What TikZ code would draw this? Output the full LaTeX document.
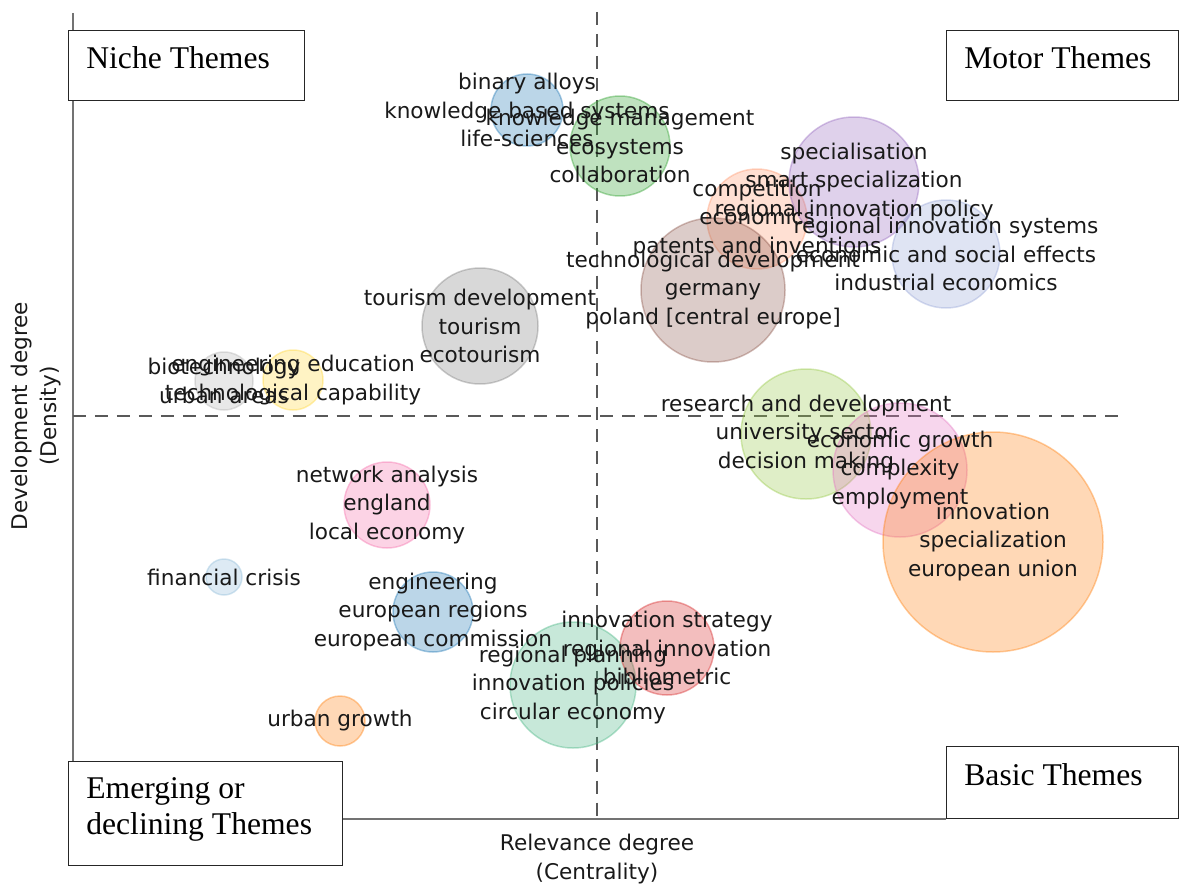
\documentclass[tikz,border=0pt]{standalone}
\usepackage{fontspec}
\setmainfont{Liberation Serif}
\newfontfamily\dejavu{DejaVu Sans}
\usepackage{tikz}
\usetikzlibrary{positioning}
\usepackage{xcolor}
\definecolor{tabblue}{RGB}{31,119,180}
\definecolor{tabgreen}{RGB}{44,160,44}
\definecolor{taborange}{RGB}{255,127,14}
\definecolor{tabred}{RGB}{214,39,40}
\definecolor{tabpurple}{RGB}{148,103,189}
\definecolor{tabbrown}{RGB}{140,86,75}
\definecolor{tabpink}{RGB}{227,119,194}
\definecolor{tabgray}{RGB}{127,127,127}
\definecolor{lightsalmon}{RGB}{255,152,110}
\definecolor{periwinkle}{RGB}{150,165,215}
\definecolor{paleyellow}{RGB}{255,215,60}
\definecolor{yellowgreen}{RGB}{150,200,70}
\definecolor{rosepink}{RGB}{245,110,170}
\definecolor{mint}{RGB}{70,180,130}

\tikzset{
    bubble/.style={circle, inner sep=0pt, fill=#1, draw=#1, fill opacity=0.3, draw opacity=0.4, line width=0.85pt},
    term/.style={font=\dejavu\fontsize{12.3}{16.2}\selectfont, align=center, inner sep=0pt, text=black!90},
    quadbox/.style={draw=black!85, fill=white, line width=0.7pt, inner sep=0pt, anchor=north west},
    quadtext/.style={font=\fontsize{18}{20.5}\selectfont, align=left, inner sep=0pt, anchor=north west},
    axisline/.style={draw=black!55, line width=0.7pt},
    splitline/.style={draw=black!65, line width=1.15pt, dash pattern=on 7.4pt off 5.1pt},
}

\begin{document}
\begin{tikzpicture}[x=0.02cm, y=-0.02cm]
    \useasboundingbox (0,0) rectangle (1179,885);

    % Axes
    \coordinate (origin) at (73,819);
    \coordinate (ytop) at (73,13);
    \coordinate (xend) at (946,819);
    \draw[axisline] (ytop) -- (origin) -- (xend);

    % Quadrant split lines
    \coordinate (vtop) at (597,12);
    \coordinate (vbot) at (597,819);
    \coordinate (hleft) at (73,416);
    \coordinate (hright) at (1122,416);
    \draw[splitline] (vtop) -- (vbot);
    \draw[splitline] (hleft) -- (hright);

    % Clusters
    \foreach \nm/\cl/\bx/\by/\r in {
        alloys/tabblue/527/110/36,
        kmgmt/tabgreen/620/146/50,
        compet/lightsalmon/757/219/50,
        spec/tabpurple/854/182/65,
        ris/periwinkle/946/254/54,
        techdev/tabbrown/713/290/72,
        tourism/tabgray/480/326/58,
        biotech/tabgray!60/224/381/29,
        engedu/paleyellow/293/380/30,
        rnd/yellowgreen/806/434/65,
        growth/tabpink/900/470/67,
        innov/taborange/993/542/110,
        network/rosepink/387/505/43,
        crisis/tabblue!50/224/577/18,
        regions/tabblue/433/612/40,
        planning/mint/573/685/63,
        strategy/tabred/667/648/47,
        urbgrowth/taborange/340/721/25}
    {
        \node[bubble=\cl, minimum size=2*\r*0.02cm] (\nm) at (\bx,\by) {};
    }

    % Cluster labels
    \foreach \nm/\txt in {
        alloys/{binary alloys\\knowledge based systems\\life-sciences},
        kmgmt/{knowledge management\\ecosystems\\collaboration},
        compet/{competition\\economics\\patents and inventions},
        spec/{specialisation\\smart specialization\\regional innovation policy},
        ris/{regional innovation systems\\economic and social effects\\industrial economics},
        techdev/{technological development\\germany\\poland [central europe]},
        tourism/{tourism development\\tourism\\ecotourism},
        biotech/{biotechnology\\urban areas},
        engedu/{engineering education\\technological capability},
        rnd/{research and development\\university sector\\decision making},
        growth/{economic growth\\complexity\\employment},
        innov/{innovation\\specialization\\european union},
        network/{network analysis\\england\\local economy},
        crisis/{financial crisis},
        regions/{engineering\\european regions\\european commission},
        planning/{regional planning\\innovation policies\\circular economy},
        strategy/{innovation strategy\\regional innovation\\bibliometric},
        urbgrowth/{urban growth}}
    {
        \node[term] (\nm-lbl) at (\nm) {\txt};
    }

    % Axis titles
    \node[term] (xtitle) at (597,859) {Relevance degree\\(Centrality)};
    \node[term, rotate=90] (ytitle) at (36,416) {Development degree\\(Density)};

    % Quadrant boxes
    \node[quadbox, minimum width=236*0.02cm, minimum height=70*0.02cm] (niche) at (68,30) {};
    \node[quadbox, minimum width=232*0.02cm, minimum height=70*0.02cm] (motor) at (946,30) {};
    \node[quadbox, minimum width=274*0.02cm, minimum height=104*0.02cm] (emerging) at (68,761) {};
    \node[quadbox, minimum width=232*0.02cm, minimum height=72*0.02cm] (basic) at (946,746) {};

    \node[quadtext] (niche-t) at ([shift={(18,16)}]niche.north west) {Niche Themes};
    \node[quadtext] (motor-t) at ([shift={(18,16)}]motor.north west) {Motor Themes};
    \node[quadtext] (emerging-t) at ([shift={(18,16)}]emerging.north west) {Emerging or\\declining Themes};
    \node[quadtext] (basic-t) at ([shift={(18,17)}]basic.north west) {Basic Themes};
\end{tikzpicture}
\end{document}
